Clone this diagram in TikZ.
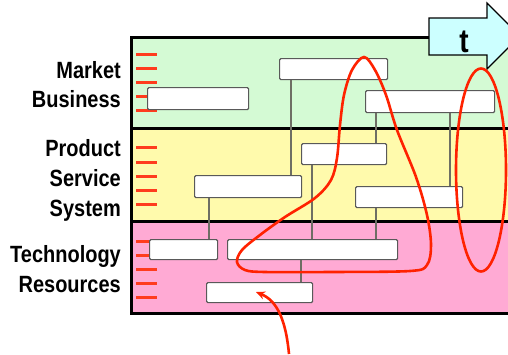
\documentclass[tikz,border=0pt]{standalone}
\usepackage{fontspec}
\newfontfamily\labfont[FakeStretch=0.85]{Liberation Sans}
\usetikzlibrary{arrows.meta}
\definecolor{pgreen}{RGB}{212,250,212}
\definecolor{pyellow}{RGB}{255,250,172}
\definecolor{ppink}{RGB}{255,170,212}
\definecolor{pcyan}{RGB}{204,255,255}
\definecolor{cred}{RGB}{255,34,0}
\definecolor{dred}{RGB}{255,60,30}
\definecolor{conn}{RGB}{110,110,100}
\tikzset{
  box/.style={draw=black!65, fill=white, line width=1.2pt, rounded corners=1.2pt, anchor=north west, inner sep=0pt},
  tick/.style={draw=dred, line width=3pt},
  link/.style={draw=conn, line width=1.5pt},
  loop/.style={draw=cred, line width=2.6pt},
  lab/.style={anchor=base east, inner sep=0pt, font=\labfont\bfseries\fontsize{23.5}{28}\selectfont},
  frame/.style={line width=3pt}
}
\begin{document}
\begin{tikzpicture}[x=1pt,y=-1pt]
\clip (0,0) rectangle (508,354);
\useasboundingbox (0,0) rectangle (508,354);
% panels
\fill[pgreen] (131,37) rectangle (520,128);
\fill[pyellow] (131,128) rectangle (520,221);
\fill[ppink] (131,221) rectangle (520,313);
\draw[frame] (520,37) -- (131,37) -- (131,313) -- (520,313);
\draw[frame] (131,128) -- (520,128);
\draw[frame] (131,221) -- (520,221);
% red ticks
\foreach \y in {54,68,82,96,110,147,162,176,190,204,241,255,269,283,297}
  \draw[tick] (136,\y) -- (157,\y);
% labels
\node[lab] (l1) at (121,78) {Market};
\node[lab] (l2) at (121,107) {Business};
\node[lab] (l3) at (121,156) {Product};
\node[lab] (l4) at (121,186) {Service};
\node[lab] (l5) at (121,216) {System};
\node[lab] (l6) at (121,262) {Technology};
\node[lab] (l7) at (121,292) {Resources};
% boxes
\node[box, minimum width=101pt, minimum height=22pt] (b1) at (147,87) {};
\node[box, minimum width=108pt, minimum height=21pt] (b2) at (279,58) {};
\node[box, minimum width=129pt, minimum height=22pt] (b3) at (365,90) {};
\node[box, minimum width=107pt, minimum height=22pt] (y1) at (194,175) {};
\node[box, minimum width=85pt, minimum height=21pt] (y2) at (301,143) {};
\node[box, minimum width=107pt, minimum height=21pt] (y3) at (355,186) {};
\node[box, minimum width=68pt, minimum height=20pt] (p1) at (149,239) {};
\node[box, minimum width=170pt, minimum height=20pt] (p2) at (227,239) {};
\node[box, minimum width=106pt, minimum height=20pt] (p3) at (206,282) {};
% connectors
\draw[link] ([xshift=12pt]b2.south west) -- ([xshift=97pt]y1.north west);
\draw[link] ([xshift=11pt]b3.south west) -- ([xshift=75pt]y2.north west);
\draw[link] ([xshift=85pt]b3.south west) -- ([xshift=95pt]y3.north west);
\draw[link] ([xshift=11pt]y2.south west) -- ([xshift=85pt]p2.north west);
\draw[link] ([xshift=21pt]y3.south west) -- ([xshift=149pt]p2.north west);
\draw[link] ([xshift=15pt]y1.south west) -- ([xshift=60pt]p1.north west);
\draw[link] ([xshift=74pt]p2.south west) -- ([xshift=95pt]p3.north west);
% time arrow
\draw[fill=pcyan, line width=1.2pt, line join=miter]
  (429,18) -- (487,18) -- (487,3) -- (520,36) -- (487,69) -- (487,55) -- (429,55) -- cycle;
\node[anchor=base, inner sep=0pt, font=\labfont\bfseries\fontsize{33}{36}\selectfont] (t) at (464,52) {t};
% red loops
\draw[loop] plot[smooth cycle, tension=0.55] coordinates {
  (364,57) (375,70) (386,95) (397,130) (416,177) (427,215) (431,245) (427,265)
  (410,271) (330,272) (265,272) (245,270) (237,262) (242,250) (260,235)
  (285,217) (315,198) (331,180) (337,158) (340,125) (344,95) (352,70)};
\draw[loop] (481,170) ellipse[x radius=25, y radius=101.5];
\coordinate (tail) at (289,354);
\draw[loop, -{Stealth[length=9pt,width=8pt]}] (tail) .. controls (286,322) and (278,301) .. ([xshift=50pt,yshift=-10pt]p3.north west);
\end{tikzpicture}
\end{document}
